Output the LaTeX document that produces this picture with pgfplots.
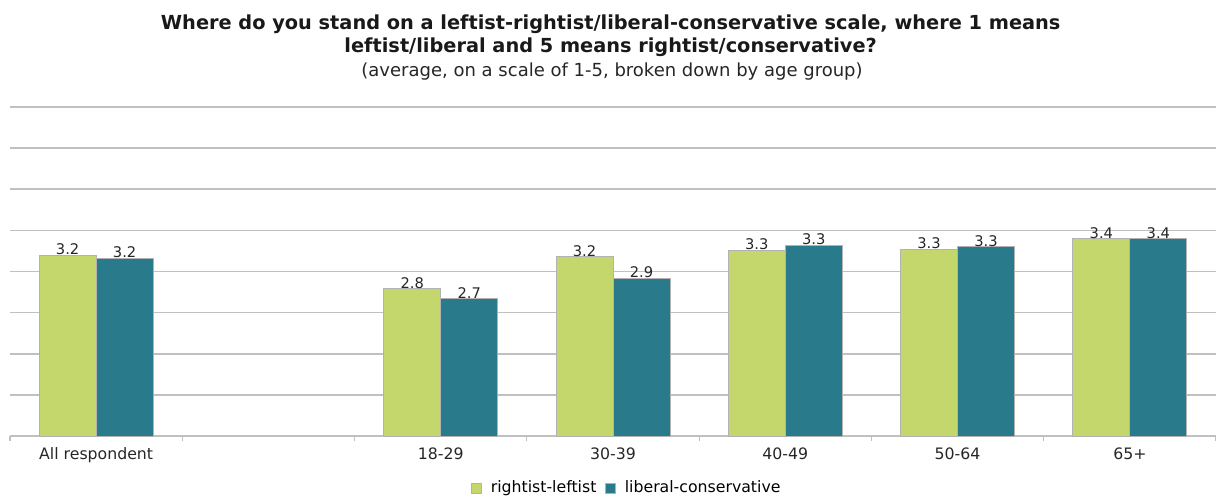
\documentclass[border=0pt]{standalone}
\usepackage{pgfplots}
\pgfplotsset{compat=1.18}
\usepackage{fontspec}
\setmainfont{DejaVu Sans}
\definecolor{cgreen}{HTML}{C4D76C}
\definecolor{cteal}{HTML}{297B8B}
\definecolor{cgrid}{HTML}{C0C0C0}
\begin{document}
\begin{tikzpicture}[x=1pt,y=1pt]
\begin{axis}[
  at={(7.5pt,45.75pt)}, anchor=south west,
  scale only axis, width=904.5pt, height=246.75pt,
  ybar=0pt, bar width=42.75pt,
  xmin=-0.5, xmax=6.5, ymin=1, ymax=5,
  axis x line*=bottom, axis y line*=left,
  x axis line style={cgrid, line width=1.2pt},
  y axis line style={draw=none},
  ytick={1,1.5,...,5}, yticklabels={}, ytick style={draw=none},
  ymajorgrids, grid style={cgrid, line width=1.2pt},
  xtick={0,2,3,4,5,6},
  xticklabels={All respondent,18-29,30-39,40-49,50-64,65+},
  major x tick style={draw=none},
  minor xtick={-0.5,0.5,...,6.5},
  minor x tick style={cgrid, line width=0.8pt},
  minor tick length=4pt, tick align=outside,
  xticklabel style={font=\fontsize{11.8}{13}\selectfont, color=black!85, yshift=-1pt},
  nodes near coords,
  nodes near coords style={font=\fontsize{11}{12}\selectfont, color=black!85, /pgf/number format/.cd, fixed, precision=1, fixed zerofill, assume math mode=true, /tikz/.cd, yshift=-3.5pt},
  every axis plot/.append style={draw=black!30, line width=0.6pt},
  legend style={at={(0.511,-0.158)}, anchor=center, draw=none, legend columns=2,
    font=\fontsize{11.8}{13}\selectfont, column sep=6pt, inner sep=0pt, nodes={inner sep=0.6pt}},
  legend image code/.code={\fill[#1] (0pt,-3.75pt) rectangle (7.5pt,3.75pt);},
  legend cell align=left,
]
\addplot[fill=cgreen] coordinates {(0,3.20) (2,2.79) (3,3.18) (4,3.26) (5,3.27) (6,3.40)};
\addplot[fill=cteal] coordinates {(0,3.16) (2,2.67) (3,2.92) (4,3.32) (5,3.30) (6,3.40)};
\legend{rightist-leftist,liberal-conservative}
\end{axis}
\node[font=\fontsize{14.5}{16}\selectfont\bfseries, color=black!90] at (458pt,354.75pt) {Where do you stand on a leftist-rightist/liberal-conservative scale, where 1 means};
\node[font=\fontsize{14.5}{16}\selectfont\bfseries, color=black!90] at (458pt,337.5pt) {leftist/liberal and 5 means rightist/conservative?};
\node[font=\fontsize{13.5}{15}\selectfont, color=black!85] at (459pt,318.75pt) {(average, on a scale of 1-5, broken down by age group)};
\pgfresetboundingbox
\path (0,0) rectangle (912pt,372.75pt);
\end{tikzpicture}
\end{document}
